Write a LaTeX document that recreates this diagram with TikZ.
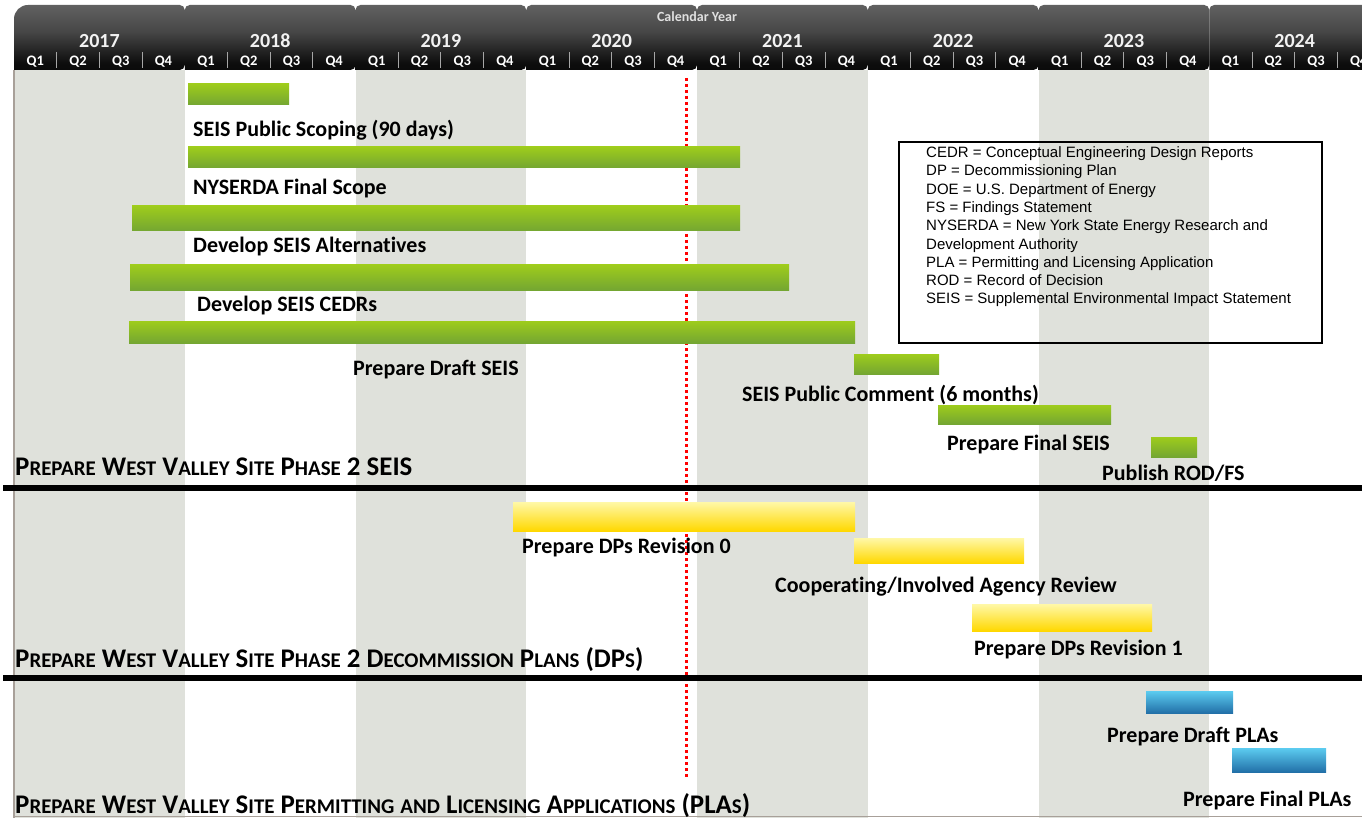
\documentclass[tikz,border=0pt]{standalone}
\usepackage{fontspec}
\setmainfont[Ligatures=NoCommon]{Carlito}
\newfontfamily\legfont{Liberation Sans}
\definecolor{band}{HTML}{DFE1DB}
\definecolor{gtop}{RGB}{158,204,28}
\definecolor{gbot}{RGB}{116,166,50}
\definecolor{ytop}{HTML}{FFF8A8}
\definecolor{ybot}{HTML}{FFD800}
\definecolor{btop}{HTML}{5CCCF0}
\definecolor{bbot}{HTML}{2270A8}
\definecolor{edge}{HTML}{A8A099}
\pgfdeclareverticalshading{hdr}{100bp}{color(0bp)=(black); color(30bp)=(black!95); color(55bp)=(black!72); color(100bp)=(black!50)}
\newcommand\hsc[2]{#1{\fontsize{20.9}{20.9}\selectfont#2}}
\tikzset{
  lbl/.style={font=\fontsize{22}{26}\selectfont\bfseries, inner sep=0pt, anchor=base west},
  head/.style={font=\fontsize{26.9}{30}\selectfont\bfseries, inner sep=0pt, anchor=base west},
  yr/.style={font=\fontsize{20}{24}\selectfont\bfseries, text=black!5, inner sep=0pt, anchor=base},
  qt/.style={font=\fontsize{14.5}{16}\selectfont\bfseries, text=white, inner sep=0pt, anchor=base},
  gbar/.style={top color=gtop, bottom color=gbot},
  ybar/.style={top color=ytop, bottom color=ybot},
  bbar/.style={top color=btop, bottom color=bbot},
  sep/.style={black, line width=6pt},
}
\begin{document}
\begin{tikzpicture}[x=1pt,y=-1pt]
\useasboundingbox (0,0) rectangle (1362,818);
\begin{scope}
\clip (0,0) rectangle (1362,818);
% background bands
\foreach \i in {0,2,4,6} {
  \fill[band] ({14+170.75*\i},70) rectangle ({14+170.75*(\i+1)},818);
}
\draw[edge, line width=1.2pt] (14,70) -- (14,818);
\draw[edge, line width=1.5pt] (14,816.5) -- (1362,816.5);
% header tabs
\foreach \i in {0,...,7} {
  \pgfmathsetmacro\xa{14+170.75*\i}
  \pgfmathsetmacro\xb{14+170.75*(\i+1)}
  \ifnum\i=0
    \shade[shading=hdr] (\xa,70) [rounded corners=14pt] -- (\xa,5) [rounded corners=5pt] -- (\xb,5) -- (\xb,70) [sharp corners] -- cycle;
  \else
    \shade[shading=hdr] (\xa,70) [rounded corners=5pt] -- (\xa,5) -- (\xb,5) -- (\xb,70) [sharp corners] -- cycle;
  \fi
}
\foreach \y [count=\i from 0] in {2017,2018,2019,2020,2021,2022,2023,2024} {
  \node[yr] (y\y) at ({14+170.75*\i+85.4},48) {\y};
  \foreach \q in {1,2,3,4} {
    \node[qt] (q\y\q) at ({14+170.75*\i+42.69*(\q-1)+21.35},66) {Q\q};
  }
  \foreach \q in {1,2,3} {
    \draw[black!35, line width=0.8pt] ({14+170.75*\i+42.69*\q},52) -- ({14+170.75*\i+42.69*\q},68);
  }
}
\node[font=\fontsize{14}{16}\selectfont\bfseries, text=black!12, inner sep=0pt, anchor=base] (cal) at (697,22) {Calendar Year};
\end{scope}
% red dotted current-date line
\coordinate (rt) at (686,78);
\coordinate (rb) at (686,778);
\draw[red, line width=3pt, dash pattern=on 3pt off 3pt] (rt) -- (rb);
% SEIS bars
\shade[gbar] (188,84) rectangle (289,105);
\shade[gbar] (188,147) rectangle (740,168);
\shade[gbar] (132,206) rectangle (740,231);
\shade[gbar] (130,265) rectangle (789,290);
\shade[gbar] (129,321) rectangle (855,343);
\shade[gbar] (854,354) rectangle (939,374);
\shade[gbar] (938,405) rectangle (1111,424);
\shade[gbar] (1151,437) rectangle (1197,457);
\node[lbl] (l1) at (193,137) {SEIS Public Scoping (90 days)};
\node[lbl] (l2) at (193,195) {NYSERDA Final Scope};
\node[lbl] (l3) at (193,253) {Develop SEIS Alternatives};
\node[lbl] (l4) at (197,312) {Develop SEIS CEDRs};
\node[lbl] (l5) at (353,375) {Prepare Draft SEIS};
\node[lbl] (l6) at (742,401) {SEIS Public Comment (6 months)};
\node[lbl] (l7) at (947,450) {Prepare Final SEIS};
\node[lbl] (l8) at (1102,480) {Publish ROD/FS};
\node[head] (h1) at (15,475) {\hsc{P}{REPARE} \hsc{W}{EST} \hsc{V}{ALLEY} \hsc{S}{ITE} \hsc{P}{HASE} 2 SEIS};
\coordinate (s1a) at (3,488);
\coordinate (s1b) at (1362,488);
\draw[sep] (s1a) -- (s1b);
% DP bars
\shade[ybar] (513,502) rectangle (855,531);
\shade[ybar] (854,538) rectangle (1024,563);
\shade[ybar] (972,604) rectangle (1152,631);
\node[lbl] (d1) at (522,553) {Prepare DPs Revision 0};
\node[lbl] (d2) at (775,592) {Cooperating/Involved Agency Review};
\node[lbl] (d3) at (974,655) {Prepare DPs Revision 1};
\node[head] (h2) at (15,667) {\hsc{P}{REPARE} \hsc{W}{EST} \hsc{V}{ALLEY} \hsc{S}{ITE} \hsc{P}{HASE} 2 \hsc{D}{ECOMMISSION} \hsc{P}{LANS} (DP\hsc{}{S})};
\coordinate (s2a) at (3,678);
\coordinate (s2b) at (1362,678);
\draw[sep] (s2a) -- (s2b);
% PLA bars
\shade[bbar] (1146,691) rectangle (1233,713);
\shade[bbar] (1232,748) rectangle (1326,772);
\node[lbl] (p1) at (1107,742) {Prepare Draft PLAs};
\node[lbl] (p2) at (1183,806) {Prepare Final PLAs};
\node[head] (h3) at (15,813) {\hsc{P}{REPARE} \hsc{W}{EST} \hsc{V}{ALLEY} \hsc{S}{ITE} \hsc{P}{ERMITTING} \hsc{}{AND} \hsc{L}{ICENSING} \hsc{A}{PPLICATIONS} (PLA\hsc{}{S})};
% legend
\node[draw=black, line width=2pt, minimum width=423pt, minimum height=201pt, anchor=north west, inner sep=0pt] (leg) at (898,141) {};
\node[anchor=north west, inner sep=0pt, align=left, font=\legfont\fontsize{15}{18.3}\selectfont] (legt) at (926,146.5) {CEDR = Conceptual Engineering Design Reports\\DP = Decommissioning Plan\\DOE = U.S. Department of Energy\\FS = Findings Statement\\NYSERDA = New York State Energy Research and\\Development Authority\\PLA = Permitting and Licensing Application\\ROD = Record of Decision\\SEIS = Supplemental Environmental Impact Statement};
\end{tikzpicture}
\end{document}
